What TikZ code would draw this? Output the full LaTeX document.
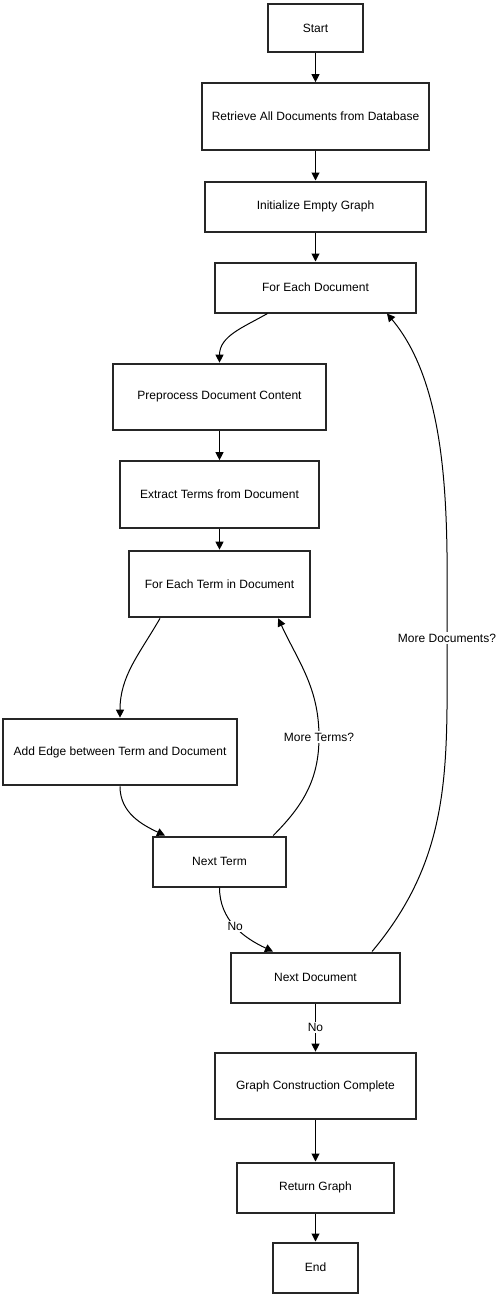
\documentclass[tikz,border=0pt]{standalone}
\usepackage{fontspec}
\setmainfont{Liberation Sans}
\usetikzlibrary{arrows.meta}

\begin{document}
\begin{tikzpicture}[x=0.75pt, y=0.75pt,
        box/.style={draw=black!85, line width=1.5pt, minimum height=37.5pt,
            inner sep=2pt, font=\fontsize{9pt}{11pt}\selectfont},
        tallbox/.style={box, minimum height=50pt},
        flow/.style={-{Triangle[length=6pt, width=6pt]}, line width=0.75pt},
        lbl/.style={fill=white, inner sep=1pt, font=\fontsize{9pt}{11pt}\selectfont}]
        \useasboundingbox (0,0) rectangle (496,-1295);

        % 1. Define the steps (Nodes)
        % Main column
        \node[box, minimum width=71pt, minimum height=36.5pt] (start) at (315.5,-28) {Start};
        \node[tallbox, minimum width=170pt] (retrieve) at (315.5,-116.5) {Retrieve All Documents from Database};
        \node[box, minimum width=166pt] (init) at (315.5,-206.5) {Initialize Empty Graph};
        \node[box, minimum width=150.5pt] (foreachdoc) at (315.5,-287.5) {For Each Document};

        % Inner loop column
        \node[tallbox, minimum width=159.5pt] (preprocess) at (219.5,-397) {Preprocess Document Content};
        \node[tallbox, minimum width=149pt] (extract) at (219.5,-494.5) {Extract Terms from Document};
        \node[tallbox, minimum width=136pt] (foreachterm) at (219.5,-584) {For Each Term in Document};
        \node[tallbox, minimum width=176pt] (addedge) at (120,-752) {Add Edge between Term and Document};
        \node[box, minimum width=100pt] (nextterm) at (219.5,-861.5) {Next Term};

        % Back in the main column
        \node[box, minimum width=127pt] (nextdoc) at (315.5,-977.5) {Next Document};
        \node[tallbox, minimum width=150.5pt] (complete) at (315.5,-1086) {Graph Construction Complete};
        \node[box, minimum width=117.5pt] (returngraph) at (315.5,-1187.5) {Return Graph};
        \node[box, minimum width=63.5pt] (endnode) at (315.5,-1267.5) {End};

        % Bends of the two loops
        \coordinate (mterm) at (319,-737);   % More Terms
        \coordinate (mdoc) at (447,-638);    % More Documents

        % 2. Draw the Edges (Arrows)
        % The straight steps
        \foreach \a/\b in {start/retrieve, retrieve/init, init/foreachdoc,
                preprocess/extract, extract/foreachterm,
                complete/returngraph, returngraph/endnode}
            \draw[flow] (\a) -- (\b);

        % Into the document loop
        \draw[flow] ([xshift=-36pt]foreachdoc.south) to[out=-150, in=90] (preprocess.north);

        % The term loop
        \draw[flow] ([xshift=-44.6pt]foreachterm.south) to[out=-120, in=90] (addedge.north);
        \draw[flow] (addedge.south) to[out=-90, in=155] ([xshift=-40.9pt]nextterm.north);
        \draw[flow] ([xshift=40.3pt]nextterm.north) to[out=45, in=-90] (mterm)
            to[out=90, in=-65] ([xshift=44pt]foreachterm.south);
        \draw[flow] (nextterm.south) to[out=-90, in=155] node[lbl] {No} ([xshift=-31.9pt]nextdoc.north);

        % The document loop
        \draw[flow] ([xshift=42.4pt]nextdoc.north) to[out=50, in=-90] (mdoc)
            to[out=90, in=-50, looseness=0.8] ([xshift=53.6pt]foreachdoc.south);
        \draw[flow] (nextdoc) -- node[lbl] {No} (complete);

        % 3. Labels on the loops
        \node[lbl] at (mterm) {More Terms?};
        \node[lbl] at (mdoc) {More Documents?};

    \end{tikzpicture}
\end{document}
